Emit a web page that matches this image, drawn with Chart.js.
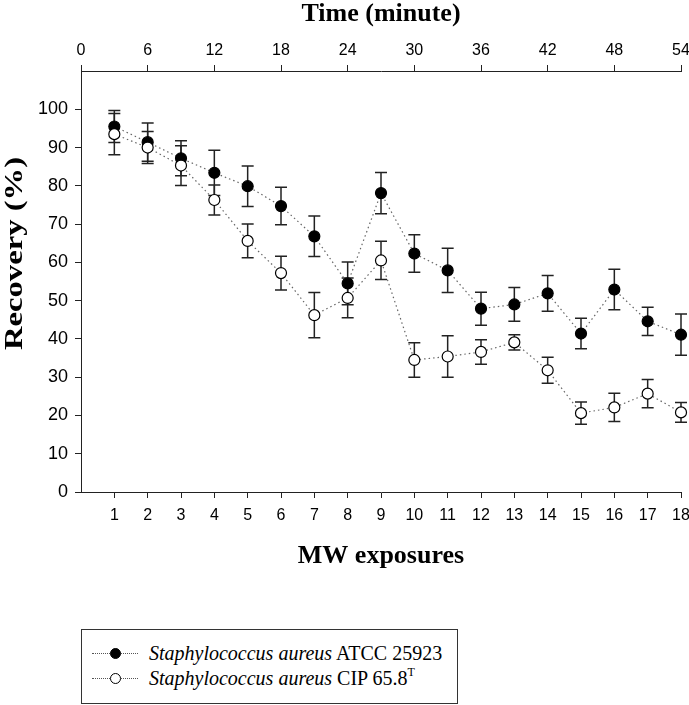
<!DOCTYPE html>
<html lang="en">
<head>
<meta charset="UTF-8">
<title>Recovery vs MW exposures</title>
<script src="https://cdn.jsdelivr.net/npm/chart.js"></script>
<style>
  body { margin: 0; background: #fff; }
  #wrap { position: relative; width: 689px; height: 705px; }
  #legend {
    position: absolute; left: 81px; top: 629px; width: 377px; height: 75px;
    border: 1px solid #333; box-sizing: border-box; background: #fff;
    font-family: "Liberation Serif", "Times New Roman", serif; font-size: 20px; color: #000;
  }
  .row { position: absolute; left: 0; height: 24px; line-height: 24px; white-space: nowrap; }
  .sample { position: absolute; left: 10px; top: 0; width: 46px; height: 24px; }
  .sample::before { content: ""; position: absolute; left: 0; right: 0; top: 12px; border-top: 1px dotted #555; }
  .dot { position: absolute; left: 18px; top: 7px; width: 9px; height: 9px; border: 1px solid #000; border-radius: 50%; }
  .label { position: absolute; left: 67px; top: 0; }
  sup { font-size: 12px; vertical-align: 9px; line-height: 0; }
</style>
</head>
<body>
<div id="wrap">
  <canvas id="chart" width="689" height="705"></canvas>
  <div id="legend">
    <div class="row" style="top:11px">
      <span class="sample"><span class="dot" style="background:#000"></span></span>
      <span class="label"><i>Staphylococcus aureus</i> ATCC 25923</span>
    </div>
    <div class="row" style="top:36px">
      <span class="sample"><span class="dot" style="background:#fff"></span></span>
      <span class="label"><i>Staphylococcus aureus</i> CIP 65.8<sup>T</sup></span>
    </div>
  </div>
</div>

<script>
  // data
  const exposures = [1, 2, 3, 4, 5, 6, 7, 8, 9, 10, 11, 12, 13, 14, 15, 16, 17, 18];
  const timeTicks = [0, 6, 12, 18, 24, 30, 36, 42, 48, 54];
  const recoveryTicks = [0, 10, 20, 30, 40, 50, 60, 70, 80, 90, 100];

  const atccValues = [95.5, 91.4, 87.2, 83.4, 79.9, 74.7, 66.8, 54.5, 78.1, 62.3, 57.9, 47.9, 49.0, 51.9, 41.4, 52.9, 44.6, 41.1];
  const atccErrors = [4.2, 5.0, 4.6, 5.9, 5.3, 4.9, 5.3, 5.6, 5.4, 4.9, 5.8, 4.3, 4.4, 4.7, 4.0, 5.3, 3.7, 5.4];
  const cipValues = [93.5, 90.0, 85.3, 76.3, 65.6, 57.2, 46.2, 50.7, 60.5, 34.5, 35.4, 36.6, 39.1, 31.8, 20.6, 22.1, 25.7, 20.8];
  const cipErrors = [5.4, 4.2, 5.2, 3.9, 4.4, 4.4, 5.9, 5.2, 5.0, 4.5, 5.4, 3.2, 2.0, 3.4, 2.9, 3.7, 3.7, 2.6];

  const axisColor = '#222';
  const sans = '"Liberation Sans", Arial, sans-serif';
  const serif = '"Liberation Serif", "Times New Roman", serif';

  function toPoints(values) {
    return values.map((v, i) => ({ x: exposures[i], y: v }));
  }

  // error bars drawn under the markers
  const errorBars = {
    id: 'errorBars',
    beforeDatasetsDraw(chart) {
      const { ctx, scales: { x, y } } = chart;
      ctx.save();
      ctx.strokeStyle = '#222';
      ctx.lineWidth = 1.5;
      chart.data.datasets.forEach(ds => {
        ds.data.forEach((p, i) => {
          const px = x.getPixelForValue(p.x);
          const top = y.getPixelForValue(p.y + ds.errors[i]);
          const bot = y.getPixelForValue(p.y - ds.errors[i]);
          ctx.beginPath();
          ctx.moveTo(px, top); ctx.lineTo(px, bot);
          ctx.moveTo(px - 6, top); ctx.lineTo(px + 6, top);
          ctx.moveTo(px - 6, bot); ctx.lineTo(px + 6, bot);
          ctx.stroke();
        });
      });
      ctx.restore();
    }
  };

  // y title, stretched along its length like the original
  const yTitle = {
    id: 'yTitle',
    afterDraw(chart) {
      const { ctx, chartArea } = chart;
      const text = 'Recovery (%)';
      ctx.save();
      ctx.font = 'bold 26px ' + serif;
      ctx.fillStyle = '#000';
      ctx.textAlign = 'center';
      ctx.textBaseline = 'middle';
      const w = ctx.measureText(text).width;
      ctx.translate(15, (chartArea.top + chartArea.bottom) / 2 - 28);
      ctx.rotate(-Math.PI / 2);
      ctx.scale(193 / w, 1);
      ctx.fillText(text, 0, 0);
      ctx.restore();
    }
  };

  new Chart(document.getElementById('chart'), {
    type: 'line',
    data: {
      datasets: [
        {
          label: 'Staphylococcus aureus ATCC 25923',
          data: toPoints(atccValues),
          errors: atccErrors,
          order: 1,
          borderColor: '#666',
          borderWidth: 1.2,
          borderDash: [1.5, 3],
          pointRadius: 5.5,
          pointBackgroundColor: '#000',
          pointBorderColor: '#000',
          pointBorderWidth: 1.2,
          clip: false
        },
        {
          label: 'Staphylococcus aureus CIP 65.8T',
          data: toPoints(cipValues),
          errors: cipErrors,
          order: 0,
          borderColor: '#666',
          borderWidth: 1.2,
          borderDash: [1.5, 3],
          pointRadius: 5.5,
          pointBackgroundColor: '#fff',
          pointBorderColor: '#000',
          pointBorderWidth: 1.2,
          clip: false
        }
      ]
    },
    options: {
      responsive: false,
      animation: false,
      layout: { padding: { left: 0, right: 8, top: 0, bottom: 133 } },
      plugins: { legend: { display: false }, tooltip: { enabled: false } },
      scales: {
        x: {
          type: 'linear', position: 'bottom', min: 0, max: 18,
          afterBuildTicks: s => { s.ticks = exposures.map(v => ({ value: v })); },
          afterFit: s => { s.height = 80; s.paddingLeft = 0; s.paddingRight = 0; },
          grid: { drawOnChartArea: false, tickLength: 6, color: axisColor, lineWidth: 1 },
          border: { color: axisColor, width: 1 },
          ticks: { autoSkip: false, maxRotation: 0, padding: 8, color: '#000', font: { family: sans, size: 16 } },
          title: { display: true, text: 'MW exposures', color: '#000', padding: 0,
                   font: { family: serif, size: 26, weight: 'bold' } }
        },
        x2: {
          type: 'linear', position: 'top', min: 0, max: 54,
          afterBuildTicks: s => { s.ticks = timeTicks.map(v => ({ value: v })); },
          afterFit: s => { s.height = 71; s.paddingLeft = 0; s.paddingRight = 0; },
          grid: { drawOnChartArea: false, tickLength: 6, color: axisColor, lineWidth: 1 },
          border: { color: axisColor, width: 1 },
          ticks: { autoSkip: false, maxRotation: 0, padding: 5, color: '#000', font: { family: sans, size: 16 } },
          title: { display: true, text: 'Time (minute)', color: '#000', padding: { top: 1, bottom: 0 },
                   font: { family: serif, size: 26, weight: 'bold', lineHeight: 1 } }
        },
        y: {
          type: 'linear', position: 'left', min: 0, max: 110,
          afterBuildTicks: s => { s.ticks = recoveryTicks.map(v => ({ value: v })); },
          afterFit: s => { s.width = 81; s.paddingTop = 0; s.paddingBottom = 0; },
          grid: { drawOnChartArea: false, tickLength: 6, color: axisColor, lineWidth: 1 },
          border: { color: axisColor, width: 1 },
          ticks: { autoSkip: false, padding: 7, color: '#000', font: { family: sans, size: 18 } }
        }
      }
    },
    plugins: [errorBars, yTitle]
  });
</script>
</body>
</html>
